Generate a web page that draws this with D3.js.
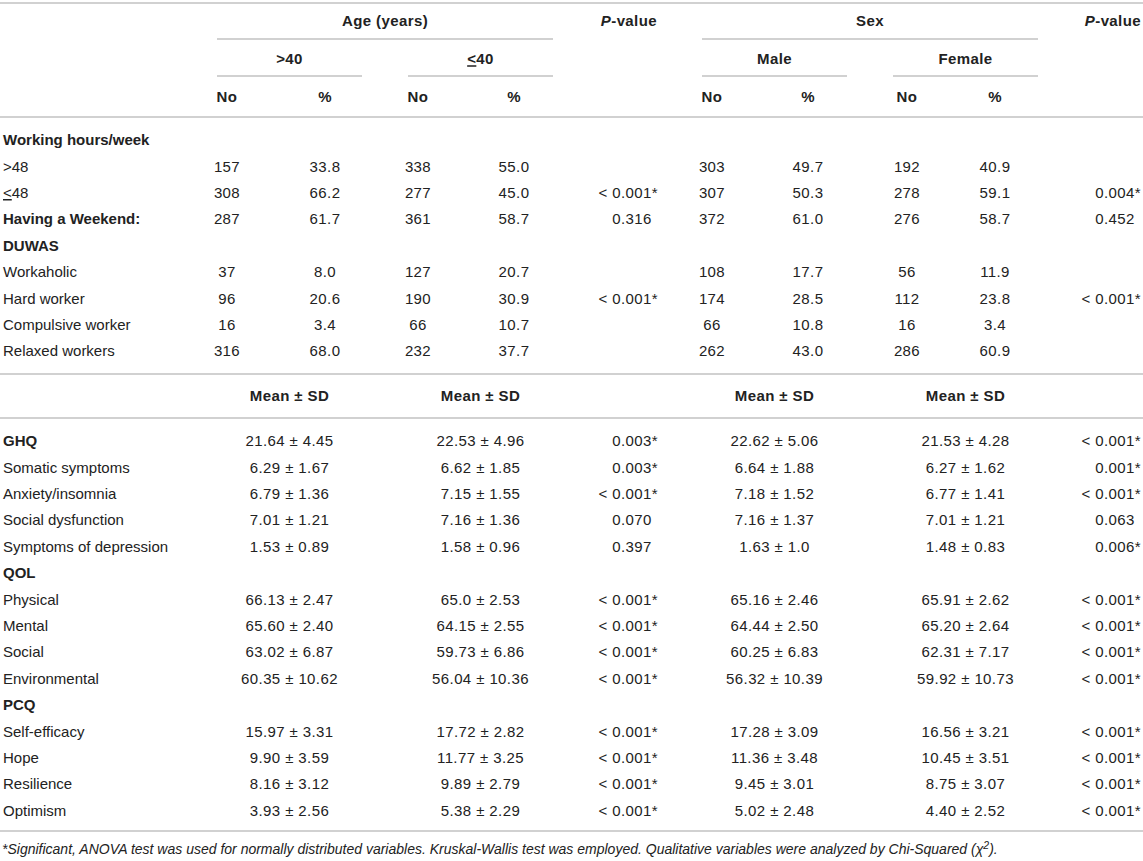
<!DOCTYPE html>
<html>
<head>
<meta charset="utf-8">
<script src="https://cdn.jsdelivr.net/npm/d3@7"></script>
<style>
body { margin: 0; background: #fff; }
text { font-family: "Liberation Sans", Arial, sans-serif; fill: #222; }
</style>
</head>
<body>
<svg width="1143" height="861"></svg>
<script>
"use strict";

// header texts
const groupNames = ['Age (years)', 'Sex'];
const subGroupNames = ['>40', '≤40', 'Male', 'Female'];

// first block: counts and percents
const countLabels = ['Working hours/week', '>48', '≤48', 'Having a Weekend:', 'DUWAS',
    'Workaholic', 'Hard worker', 'Compulsive worker', 'Relaxed workers'];
const countBold = ['Working hours/week', 'Having a Weekend:', 'DUWAS'];
const over40No   = ['', '157', '308', '287', '', '37', '96', '16', '316'];
const over40Pct  = ['', '33.8', '66.2', '61.7', '', '8.0', '20.6', '3.4', '68.0'];
const under40No  = ['', '338', '277', '361', '', '127', '190', '66', '232'];
const under40Pct = ['', '55.0', '45.0', '58.7', '', '20.7', '30.9', '10.7', '37.7'];
const ageCountP  = ['', '', '< 0.001*', '0.316', '', '', '< 0.001*', '', ''];
const maleNo     = ['', '303', '307', '372', '', '108', '174', '66', '262'];
const malePct    = ['', '49.7', '50.3', '61.0', '', '17.7', '28.5', '10.8', '43.0'];
const femaleNo   = ['', '192', '278', '276', '', '56', '112', '16', '286'];
const femalePct  = ['', '40.9', '59.1', '58.7', '', '11.9', '23.8', '3.4', '60.9'];
const sexCountP  = ['', '', '0.004*', '0.452', '', '', '< 0.001*', '', ''];

// second block: mean ± SD
const meanLabels = ['GHQ', 'Somatic symptoms', 'Anxiety/insomnia', 'Social dysfunction',
    'Symptoms of depression', 'QOL', 'Physical', 'Mental', 'Social', 'Environmental',
    'PCQ', 'Self-efficacy', 'Hope', 'Resilience', 'Optimism'];
const meanBold = ['GHQ', 'QOL', 'PCQ'];
const over40Mean = ['21.64 ± 4.45', '6.29 ± 1.67', '6.79 ± 1.36', '7.01 ± 1.21', '1.53 ± 0.89', '',
    '66.13 ± 2.47', '65.60 ± 2.40', '63.02 ± 6.87', '60.35 ± 10.62', '',
    '15.97 ± 3.31', '9.90 ± 3.59', '8.16 ± 3.12', '3.93 ± 2.56'];
const under40Mean = ['22.53 ± 4.96', '6.62 ± 1.85', '7.15 ± 1.55', '7.16 ± 1.36', '1.58 ± 0.96', '',
    '65.0 ± 2.53', '64.15 ± 2.55', '59.73 ± 6.86', '56.04 ± 10.36', '',
    '17.72 ± 2.82', '11.77 ± 3.25', '9.89 ± 2.79', '5.38 ± 2.29'];
const ageMeanP = ['0.003*', '0.003*', '< 0.001*', '0.070', '0.397', '',
    '< 0.001*', '< 0.001*', '< 0.001*', '< 0.001*', '',
    '< 0.001*', '< 0.001*', '< 0.001*', '< 0.001*'];
const maleMean = ['22.62 ± 5.06', '6.64 ± 1.88', '7.18 ± 1.52', '7.16 ± 1.37', '1.63 ± 1.0', '',
    '65.16 ± 2.46', '64.44 ± 2.50', '60.25 ± 6.83', '56.32 ± 10.39', '',
    '17.28 ± 3.09', '11.36 ± 3.48', '9.45 ± 3.01', '5.02 ± 2.48'];
const femaleMean = ['21.53 ± 4.28', '6.27 ± 1.62', '6.77 ± 1.41', '7.01 ± 1.21', '1.48 ± 0.83', '',
    '65.91 ± 2.62', '65.20 ± 2.64', '62.31 ± 7.17', '59.92 ± 10.73', '',
    '16.56 ± 3.21', '10.45 ± 3.51', '8.75 ± 3.07', '4.40 ± 2.52'];
const sexMeanP = ['< 0.001*', '0.001*', '< 0.001*', '0.063', '0.006*', '',
    '< 0.001*', '< 0.001*', '< 0.001*', '< 0.001*', '',
    '< 0.001*', '< 0.001*', '< 0.001*', '< 0.001*'];

const footnote = '*Significant, ANOVA test was used for normally distributed variables. Kruskal-Wallis test was employed. Qualitative variables were analyzed by Chi-Squared (χ';

const svg = d3.select('svg');
const fontSize = 15;
const spacing = 0.4;   // the original face is a bit wider than Arial
const lineColor = '#c2c2c2';

// column centres (p-value columns are right edges)
const colX = d3.scaleOrdinal()
    .domain(['o40No', 'o40Pct', 'u40No', 'u40Pct', 'p1', 'mNo', 'mPct', 'fNo', 'fPct', 'p2'])
    .range([227, 325, 418, 514, 658, 712, 808, 907, 995, 1141]);
const meanX = d3.scaleOrdinal()
    .domain(['o40', 'u40', 'male', 'female'])
    .range([289.5, 480.5, 774.5, 965.5]);
// spans for the group rules
const spanX = d3.scaleOrdinal()
    .domain(['age', 'o40', 'u40', 'sex', 'male', 'female'])
    .range([[217, 553], [217, 362], [408, 553], [702, 1038], [702, 847], [893, 1038]]);

const rowY1 = d3.scaleLinear().domain([0, countLabels.length - 1]).range([140, 351]);
const rowY2 = d3.scaleLinear().domain([0, meanLabels.length - 1]).range([441, 810.5]);

function hline(y, x1, x2) {
    svg.append('line')
        .attr('x1', x1).attr('x2', x2)
        .attr('y1', y).attr('y2', y)
        .attr('stroke', lineColor)
        .attr('stroke-width', 1.6);
}

// writes a label, drawing the ≤ sign as an underlined <
function putText(sel, str) {
    if (str.startsWith('≤')) {
        sel.append('tspan').attr('text-decoration', 'underline').text('<');
        sel.append('tspan').text(str.slice(1));
    } else {
        sel.text(str);
    }
}

function cell(x, y, str, opts = {}) {
    const t = svg.append('text')
        .attr('x', x)
        .attr('y', y)
        .attr('dy', '0.35em')
        .attr('font-size', fontSize)
        .attr('letter-spacing', opts.anchor === 'start' ? 0 : spacing)
        .attr('font-weight', opts.bold ? 'bold' : 'normal')
        .attr('text-anchor', opts.anchor || 'middle');
    putText(t, str);
    return t;
}

// p-values are right aligned, a hidden star keeps plain values in line
function pCell(x, y, str) {
    if (!str) return;
    const t = svg.append('text')
        .attr('x', x).attr('y', y).attr('dy', '0.35em')
        .attr('font-size', fontSize)
        .attr('letter-spacing', spacing)
        .attr('text-anchor', 'end');
    t.append('tspan').text(str);
    if (!str.endsWith('*')) t.append('tspan').attr('fill-opacity', 0).text('*');
}

function pHeader(x, y) {
    const t = svg.append('text')
        .attr('x', x).attr('y', y).attr('dy', '0.35em')
        .attr('font-size', fontSize).attr('font-weight', 'bold')
        .attr('letter-spacing', spacing)
        .attr('text-anchor', 'end');
    t.append('tspan').attr('font-style', 'italic').text('P');
    t.append('tspan').text('-value');
}

// header
hline(3, 0, 1143);
cell(d3.mean(spanX('age')), 21, groupNames[0], {bold: true});
cell(d3.mean(spanX('sex')), 21, groupNames[1], {bold: true});
pHeader(657, 21);
pHeader(1141, 21);
hline(39, ...spanX('age'));
hline(39, ...spanX('sex'));
['o40', 'u40', 'male', 'female'].forEach((k, i) => {
    cell(d3.mean(spanX(k)), 59, subGroupNames[i], {bold: true});
    hline(76, ...spanX(k));
});
[['o40No', 'o40Pct'], ['u40No', 'u40Pct'], ['mNo', 'mPct'], ['fNo', 'fPct']].forEach(p => {
    cell(colX(p[0]), 97, 'No', {bold: true});
    cell(colX(p[1]), 97, '%', {bold: true});
});
hline(117, 0, 1143);

// count block
const countCols = [
    ['o40No', over40No], ['o40Pct', over40Pct], ['u40No', under40No], ['u40Pct', under40Pct],
    ['mNo', maleNo], ['mPct', malePct], ['fNo', femaleNo], ['fPct', femalePct]
];
countLabels.forEach((lab, i) => {
    const y = rowY1(i);
    cell(3, y, lab, {bold: countBold.includes(lab), anchor: 'start'});
    countCols.forEach(([key, arr]) => {
        if (arr[i]) cell(colX(key), y, arr[i]);
    });
    pCell(colX('p1'), y, ageCountP[i]);
    pCell(colX('p2'), y, sexCountP[i]);
});

hline(374, 0, 1143);
['o40', 'u40', 'male', 'female'].forEach(k => cell(meanX(k), 396, 'Mean ± SD', {bold: true}));
hline(418, 0, 1143);

// mean block
const meanCols = [['o40', over40Mean], ['u40', under40Mean], ['male', maleMean], ['female', femaleMean]];
meanLabels.forEach((lab, i) => {
    const y = rowY2(i);
    cell(3, y, lab, {bold: meanBold.includes(lab), anchor: 'start'});
    meanCols.forEach(([key, arr]) => {
        if (arr[i]) cell(meanX(key), y, arr[i]);
    });
    pCell(colX('p1'), y, ageMeanP[i]);
    pCell(colX('p2'), y, sexMeanP[i]);
});

hline(831, 0, 1143);

// footnote
const fn = svg.append('text')
    .attr('x', 2).attr('y', 849).attr('dy', '0.35em')
    .attr('font-size', 12)
    .attr('font-style', 'italic');
fn.append('tspan').text(footnote);
fn.append('tspan').attr('font-size', '0.75em').attr('dy', '-0.45em').text('2');
fn.append('tspan').attr('dy', '0.35em').text(').');
// stretch font so the note ends where the original does
const w = fn.node().getComputedTextLength();
fn.attr('font-size', 12 * 997 / w);
</script>
</body>
</html>
